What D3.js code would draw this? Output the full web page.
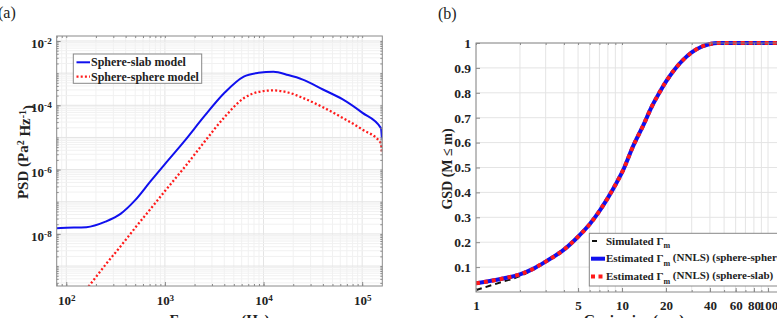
<!DOCTYPE html>
<html>
<head>
<meta charset="utf-8">
<script src="https://cdn.jsdelivr.net/npm/d3@7"></script>
<style>
  body { margin: 0; background: #fff; }
  svg { display: block; font-family: "Liberation Serif", "Times New Roman", serif; }
</style>
</head>
<body>
<svg id="chart" width="777" height="318"></svg>
<script>
// ---- panel (a): PSD vs frequency
const freqHz = [80, 100, 160, 250, 355, 500, 710, 1000, 1600, 2500, 4000, 6300, 8900, 12600, 17800, 25000, 40000, 63000, 100000, 155000, 158500];
const psdSlab = [1.51e-8, 1.55e-8, 1.62e-8, 2.4e-8, 4.2e-8, 1.12e-7, 4.2e-7, 1.48e-6, 8.1e-6, 4.5e-5, 2.4e-4, 7.8e-4, 1.02e-3, 1.1e-3, 8.7e-4, 6.3e-4, 3.1e-4, 1.55e-4, 5.9e-5, 1.95e-5, 9.3e-6];
const psdSphere = [1.4e-11, 3.2e-11, 1.9e-10, 1.1e-9, 4.1e-9, 1.55e-8, 5.8e-8, 2.15e-7, 1.23e-6, 7.1e-6, 4.2e-5, 1.66e-4, 2.6e-4, 2.9e-4, 2.5e-4, 1.7e-4, 8.7e-5, 4.1e-5, 1.78e-5, 6.6e-6, 3.2e-6];
const freqTicks = [1e2, 1e3, 1e4, 1e5];
const psdTicks = [1e-8, 1e-6, 1e-4, 1e-2];
const legendA = ["Sphere-slab model", "Sphere-sphere model"];

// ---- panel (b): GSD vs grain size
const grainSize = [1, 1.5, 2, 2.5, 3, 4, 5, 6, 7, 8, 9, 10, 12, 14, 16, 18, 20, 23, 26, 30, 35, 40, 45, 50, 60, 80, 100, 150, 200];
const gsdSimulated = [0.008, 0.040, 0.064, 0.093, 0.121, 0.170, 0.222, 0.272, 0.325, 0.378, 0.430, 0.480, 0.590, 0.670, 0.745, 0.800, 0.845, 0.895, 0.930, 0.962, 0.985, 0.996, 1, 1, 1, 1, 1, 1, 1];
const gsdSphereSphere = [0.035, 0.053, 0.071, 0.095, 0.122, 0.170, 0.222, 0.272, 0.325, 0.378, 0.430, 0.480, 0.590, 0.670, 0.745, 0.800, 0.845, 0.895, 0.930, 0.962, 0.985, 0.996, 1, 1, 1, 1, 1, 1, 1];
const gsdSphereSlab = [0.035, 0.053, 0.071, 0.095, 0.122, 0.170, 0.222, 0.272, 0.325, 0.378, 0.430, 0.480, 0.590, 0.670, 0.745, 0.800, 0.845, 0.895, 0.930, 0.962, 0.985, 0.996, 1, 1, 1, 1, 1, 1, 1];
const grainTicks = [1, 5, 10, 20, 40, 60, 80, 100];
const gsdTicks = [0.1, 0.2, 0.3, 0.4, 0.5, 0.6, 0.7, 0.8, 0.9, 1];

const svg = d3.select("#chart");
const gridMinor = "#f1f1f1", gridMajor = "#e4e4e4", frameCol = "#8a8a8a";

// log minor positions k*10^e inside a domain
function logMinors(domain) {
  let out = [];
  let lo = Math.floor(Math.log10(domain[0])), hi = Math.ceil(Math.log10(domain[1]));
  for (let e = lo; e <= hi; e++)
    for (let k = 1; k <= 9; k++) {
      let v = k * Math.pow(10, e);
      if (v >= domain[0] && v <= domain[1]) out.push(v);
    }
  return out;
}

// replace a tick text by 10 + superscript
function powLabels(sel, size) {
  sel.selectAll(".tick text").each(function(d) {
    let t = d3.select(this).text(null);
    t.append("tspan").text("10");
    t.append("tspan").attr("dy", "-0.45em").attr("font-size", size * 0.7).text(Math.round(Math.log10(d)));
  });
}

function frame(g, box, x, y, minorX, minorY) {
  // minor ticks on all four sides, pointing in
  let sides = [
    [d3.axisBottom(x), `translate(0,${box.bottom})`, minorX],
    [d3.axisTop(x), `translate(0,${box.top})`, minorX],
    [d3.axisLeft(y), `translate(${box.left},0)`, minorY],
    [d3.axisRight(y), `translate(${box.right},0)`, minorY]
  ];
  sides.forEach(([ax, tr, min]) => {
    if (min) {
      g.append("g").attr("transform", tr)
        .call(ax.tickValues(min).tickSize(-2).tickFormat(""))
        .call(s => s.select(".domain").remove())
        .call(s => s.selectAll("line").attr("stroke", frameCol));
    }
  });
  g.append("rect")
    .attr("x", box.left).attr("y", box.top)
    .attr("width", box.right - box.left).attr("height", box.bottom - box.top)
    .attr("fill", "none").attr("stroke", frameCol);
}

// ================= panel (a)
const boxA = {left: 56.7, right: 382.3, top: 36, bottom: 286};
const xA = d3.scaleLog().domain([80, 1.6e5]).range([boxA.left, boxA.right]);
const yA = d3.scaleLog().domain([Math.pow(10, -9.62), Math.pow(10, -1.845)]).range([boxA.bottom, boxA.top]);
const gA = svg.append("g");

const minorXA = logMinors(xA.domain()), minorYA = logMinors(yA.domain());
gA.append("g").selectAll("line").data(minorXA).join("line")
  .attr("x1", d => xA(d)).attr("x2", d => xA(d)).attr("y1", boxA.top).attr("y2", boxA.bottom)
  .attr("stroke", d => Math.abs(Math.log10(d) % 1) < 1e-9 ? gridMajor : gridMinor);
gA.append("g").selectAll("line").data(minorYA).join("line")
  .attr("y1", d => yA(d)).attr("y2", d => yA(d)).attr("x1", boxA.left).attr("x2", boxA.right)
  .attr("stroke", d => Math.abs(Math.log10(d) % 1) < 1e-9 ? gridMajor : gridMinor);

svg.append("clipPath").attr("id", "clipA").append("rect")
  .attr("x", boxA.left).attr("y", boxA.top)
  .attr("width", boxA.right - boxA.left).attr("height", boxA.bottom - boxA.top);

const linePsd = d3.line().x((d, i) => xA(freqHz[i])).y(d => yA(d)).curve(d3.curveMonotoneX);
gA.append("path").datum(psdSphere).attr("clip-path", "url(#clipA)")
  .attr("d", linePsd).attr("fill", "none").attr("stroke", "#ff1a1a")
  .attr("stroke-width", 2.3).attr("stroke-dasharray", "2,2.2");
gA.append("path").datum(psdSlab).attr("clip-path", "url(#clipA)")
  .attr("d", linePsd).attr("fill", "none").attr("stroke", "#1010ee").attr("stroke-width", 2);

frame(gA, boxA, xA, yA, minorXA, minorYA);

// labelled axes
gA.append("g").attr("transform", `translate(0,${boxA.bottom})`)
  .call(d3.axisBottom(xA).tickValues(freqTicks).tickSize(-4).tickPadding(10).tickFormat(d => d))
  .call(s => s.select(".domain").remove())
  .call(s => s.selectAll("line").attr("stroke", frameCol))
  .call(s => s.selectAll("text").attr("font-family", "Liberation Serif").attr("font-size", 13)
    .attr("font-weight", "bold").attr("fill", "#222"))
  .call(s => powLabels(s, 13));
gA.append("g").attr("transform", `translate(${boxA.left},0)`)
  .call(d3.axisLeft(yA).tickValues(psdTicks).tickSize(-4).tickPadding(5).tickFormat(d => d))
  .call(s => s.select(".domain").remove())
  .call(s => s.selectAll("line").attr("stroke", frameCol))
  .call(s => s.selectAll("text").attr("font-family", "Liberation Serif").attr("font-size", 13)
    .attr("font-weight", "bold").attr("fill", "#222").attr("dy", "0.5em"))
  .call(s => powLabels(s, 13));

// axis titles
gA.append("text").attr("x", (boxA.left + boxA.right) / 2).attr("y", 325)
  .attr("text-anchor", "middle").attr("font-size", 15).attr("font-weight", "bold").attr("fill", "#222")
  .text("Frequency (Hz)");
const ylabA = gA.append("text").attr("transform", "translate(28,152) rotate(-90)")
  .attr("text-anchor", "middle").attr("font-size", 15).attr("font-weight", "bold").attr("fill", "#222");
ylabA.append("tspan").text("PSD (Pa");
ylabA.append("tspan").attr("dy", "-0.45em").attr("font-size", 10).text("2");
ylabA.append("tspan").attr("dy", "0.45em").text(" Hz");
ylabA.append("tspan").attr("dy", "-0.45em").attr("font-size", 10).text("-1");
ylabA.append("tspan").attr("dy", "0.45em").text(")");

gA.append("text").attr("x", -2).attr("y", 18).attr("font-size", 16).attr("fill", "#222").text("(a)");

// legend (a)
const legA = gA.append("g");
legA.append("rect").attr("x", 73.3).attr("y", 54).attr("width", 128.4).attr("height", 29.3)
  .attr("fill", "#fff").attr("stroke", "#888");
legendA.forEach((name, i) => {
  let y = 62.3 + i * 14.4;
  legA.append("line").attr("x1", 76.5).attr("x2", 90).attr("y1", y).attr("y2", y)
    .attr("stroke", i === 0 ? "#1010ee" : "#ff1a1a").attr("stroke-width", i === 0 ? 2 : 2.3)
    .attr("stroke-dasharray", i === 0 ? null : "2,2.2");
  legA.append("text").attr("x", 91).attr("y", y + 4).attr("font-size", 12).attr("font-weight", "bold")
    .attr("fill", "#222").text(name);
});

// ================= panel (b)
const boxB = {left: 476, right: 812, top: 43, bottom: 292};
const xB = d3.scaleLog().domain([1, 200]).range([boxB.left, boxB.right]);
const yB = d3.scaleLinear().domain([0, 1]).range([boxB.bottom, boxB.top]);
const gB = svg.append("g");

const minorXB = logMinors(xB.domain());
gB.append("g").selectAll("line").data(minorXB).join("line")
  .attr("x1", d => xB(d)).attr("x2", d => xB(d)).attr("y1", boxB.top).attr("y2", boxB.bottom)
  .attr("stroke", gridMajor);
gB.append("g").selectAll("line").data(gsdTicks).join("line")
  .attr("y1", d => yB(d)).attr("y2", d => yB(d)).attr("x1", boxB.left).attr("x2", boxB.right)
  .attr("stroke", gridMajor);

svg.append("clipPath").attr("id", "clipB").append("rect")
  .attr("x", boxB.left).attr("y", boxB.top - 3)
  .attr("width", boxB.right - boxB.left).attr("height", boxB.bottom - boxB.top + 3);

const lineGsd = d3.line().x((d, i) => xB(grainSize[i])).y(d => yB(d)).curve(d3.curveMonotoneX);
gB.append("path").datum(gsdSimulated).attr("clip-path", "url(#clipB)")
  .attr("d", lineGsd).attr("fill", "none").attr("stroke", "#111").attr("stroke-width", 2)
  .attr("stroke-dasharray", "6,4");
gB.append("path").datum(gsdSphereSphere).attr("clip-path", "url(#clipB)")
  .attr("d", lineGsd).attr("fill", "none").attr("stroke", "#1010ee").attr("stroke-width", 4);
gB.append("path").datum(gsdSphereSlab).attr("clip-path", "url(#clipB)")
  .attr("d", lineGsd).attr("fill", "none").attr("stroke", "#ff1a1a").attr("stroke-width", 4)
  .attr("stroke-dasharray", "4,4");

frame(gB, boxB, xB, yB, minorXB, null);

gB.append("g").attr("transform", `translate(0,${boxB.bottom})`)
  .call(d3.axisBottom(xB).tickValues(grainTicks).tickSize(-4).tickPadding(9).tickFormat(d3.format("d")))
  .call(s => s.select(".domain").remove())
  .call(s => s.selectAll("line").attr("stroke", frameCol))
  .call(s => s.selectAll("text").attr("font-family", "Liberation Serif").attr("font-size", 13)
    .attr("font-weight", "bold").attr("fill", "#222"));
gB.append("g").attr("transform", `translate(${boxB.left},0)`)
  .call(d3.axisLeft(yB).tickValues(gsdTicks).tickSize(-4).tickPadding(5).tickFormat(d => d === 1 ? "1" : d3.format(".1f")(d)))
  .call(s => s.select(".domain").remove())
  .call(s => s.selectAll("line").attr("stroke", frameCol))
  .call(s => s.selectAll("text").attr("font-family", "Liberation Serif").attr("font-size", 13.5)
    .attr("font-weight", "bold").attr("fill", "#222"));

gB.append("text").attr("x", 634).attr("y", 325)
  .attr("text-anchor", "middle").attr("font-size", 15).attr("font-weight", "bold").attr("fill", "#222")
  .text("Grain size (\u00b5m)");
gB.append("text").attr("transform", "translate(452,169) rotate(-90)")
  .attr("text-anchor", "middle").attr("font-size", 14).attr("font-weight", "bold").attr("fill", "#222")
  .text("GSD (M \u2264 m)");
gB.append("text").attr("x", 438).attr("y", 19).attr("font-size", 16).attr("fill", "#222").text("(b)");

// legend (b)
const legendB = [
  {pre: "Simulated \u0393", post: "", color: "#111", w: 2, dash: null, x2: 597},
  {pre: "Estimated \u0393", post: " (NNLS) (sphere-sphere)", color: "#1010ee", w: 4, dash: null, x2: 605},
  {pre: "Estimated \u0393", post: " (NNLS) (sphere-slab)", color: "#ff1a1a", w: 4, dash: "4,3.5", x2: 605}
];
const legB = gB.append("g");
legB.append("rect").attr("x", 589.3).attr("y", 233.3).attr("width", 200).attr("height", 52.7)
  .attr("fill", "#fff").attr("stroke", "#888");
legendB.forEach((e, i) => {
  let y = 241 + i * 17.7;
  legB.append("line").attr("x1", i === 0 ? 592 : 591).attr("x2", e.x2).attr("y1", y).attr("y2", y)
    .attr("stroke", e.color).attr("stroke-width", e.w).attr("stroke-dasharray", e.dash);
  let t = legB.append("text").attr("x", 606).attr("y", y + 3.5).attr("font-size", 11)
    .attr("font-weight", "bold").attr("fill", "#222");
  t.append("tspan").text(e.pre);
  t.append("tspan").attr("dy", "0.45em").attr("font-size", 8).text("m");
  t.append("tspan").attr("dy", "-0.45em").text(e.post);
});
</script>
</body>
</html>
